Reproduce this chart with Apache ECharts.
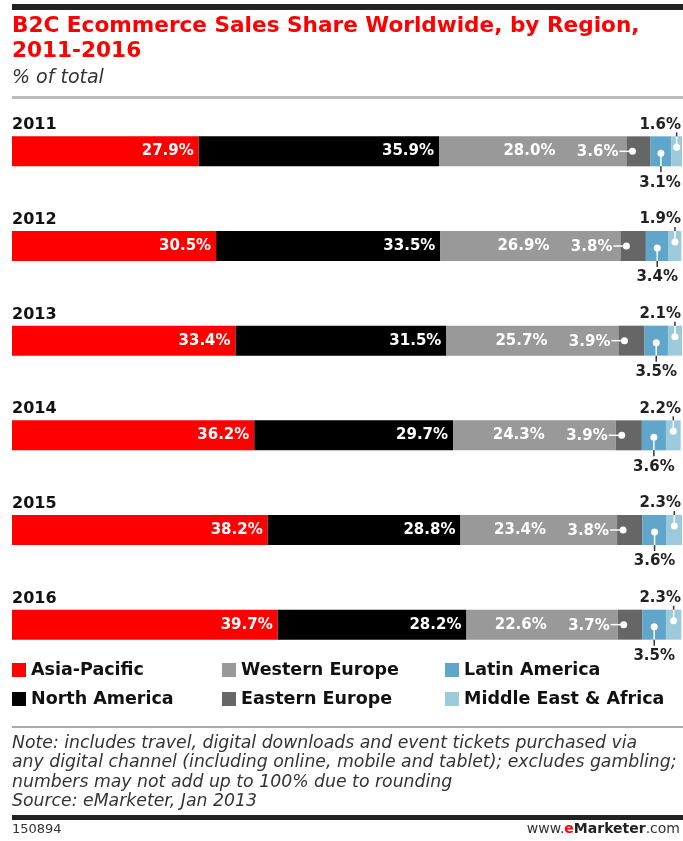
<!DOCTYPE html>
<html>
<head>
    <meta charset="utf-8">
    <title>B2C Ecommerce Sales Share Worldwide</title>
    <script src="https://cdn.jsdelivr.net/npm/echarts@6/dist/echarts.min.js"></script>
    <style>
        html, body { margin: 0; padding: 0; background: #fff; }
    </style>
</head>
<body>
    <div id="main" style="width: 683px;height:841px;"></div>
    <script type="text/javascript">
        // data
        var years = ['2011', '2012', '2013', '2014', '2015', '2016'];
        var asiaPacific = [27.9, 30.5, 33.4, 36.2, 38.2, 39.7];
        var northAmerica = [35.9, 33.5, 31.5, 29.7, 28.8, 28.2];
        var westernEurope = [28.0, 26.9, 25.7, 24.3, 23.4, 22.6];
        var easternEurope = [3.6, 3.8, 3.9, 3.9, 3.8, 3.7];
        var latinAmerica = [3.1, 3.4, 3.5, 3.6, 3.6, 3.5];
        var middleEastAfrica = [1.6, 1.9, 2.1, 2.2, 2.3, 2.3];

        var FONT = '"DejaVu Sans", Verdana, sans-serif';
        var myChart = echarts.init(document.getElementById('main'));

        // callouts for the three thin segments: [start, yearIndex, end, kind, value]
        var callouts = [];
        years.forEach(function (y, i) {
            var s = asiaPacific[i] + northAmerica[i] + westernEurope[i];
            callouts.push([s, i, s + easternEurope[i], 0, easternEurope[i]]);
            s += easternEurope[i];
            callouts.push([s, i, s + latinAmerica[i], 1, latinAmerica[i]]);
            s += latinAmerica[i];
            callouts.push([s, i, s + middleEastAfrica[i], 2, middleEastAfrica[i]]);
        });

        function renderCallout(params, api) {
            var p0 = api.coord([api.value(0), api.value(1)]);
            var p1 = api.coord([api.value(2), api.value(1)]);
            var kind = api.value(3);
            var txt = api.value(4).toFixed(1) + '%';
            var cy = p0[1];
            var half = 15;
            var children = [];
            if (kind === 0) {
                var dx = p0[0] + 6;
                children.push({type: 'line', shape: {x1: dx - 13, y1: cy, x2: dx, y2: cy}, style: {stroke: '#fff', lineWidth: 1.5}});
                children.push({type: 'circle', shape: {cx: dx, cy: cy, r: 3.5}, style: {fill: '#fff'}});
                children.push({type: 'text', x: dx - 14, y: cy + 1, style: {text: txt, fill: '#fff', font: 'bold 15px ' + FONT, align: 'right', verticalAlign: 'middle'}});
            } else if (kind === 1) {
                var lx = (p0[0] + p1[0]) / 2;
                children.push({type: 'line', shape: {x1: lx, y1: cy + 2, x2: lx, y2: cy + half}, style: {stroke: '#fff', lineWidth: 1.5}});
                children.push({type: 'line', shape: {x1: lx, y1: cy + half, x2: lx, y2: cy + half + 6}, style: {stroke: '#333', lineWidth: 1.5}});
                children.push({type: 'circle', shape: {cx: lx, cy: cy + 2, r: 3.5}, style: {fill: '#fff'}});
                children.push({type: 'text', x: Math.min(lx, 660), y: cy + half + 9, style: {text: txt, fill: '#222', font: 'bold 15px ' + FONT, align: 'center', verticalAlign: 'top'}});
            } else {
                var mx = (p0[0] + p1[0]) / 2;
                children.push({type: 'line', shape: {x1: mx, y1: cy - 4, x2: mx, y2: cy - half}, style: {stroke: '#fff', lineWidth: 1.5}});
                children.push({type: 'line', shape: {x1: mx, y1: cy - half, x2: mx, y2: cy - half - 4}, style: {stroke: '#333', lineWidth: 1.5}});
                children.push({type: 'circle', shape: {cx: mx, cy: cy - 4, r: 3.5}, style: {fill: '#fff'}});
                children.push({type: 'text', x: 681, y: cy - half - 4, style: {text: txt, fill: '#222', font: 'bold 15px ' + FONT, align: 'right', verticalAlign: 'bottom'}});
            }
            return {type: 'group', children: children};
        }

        var bigLabel = {
            show: true,
            position: 'insideRight',
            color: '#fff',
            fontFamily: FONT,
            fontWeight: 'bold',
            fontSize: 15,
            formatter: function (p) { return p.value.toFixed(1) + '%'; }
        };

        function legendAt(left, names) {
            return {
                orient: 'vertical',
                left: left,
                top: 661,
                padding: 0,
                icon: 'rect',
                itemWidth: 14,
                itemHeight: 14,
                itemGap: 11,
                selectedMode: false,
                data: names,
                textStyle: {fontFamily: FONT, fontWeight: 'bold', fontSize: 17.5, color: '#111', lineHeight: 18}
            };
        }

        option = {
            animation: false,
            backgroundColor: '#fff',
            title: {
                text: 'B2C Ecommerce Sales Share Worldwide, by Region,\n2011-2016',
                subtext: '% of total',
                left: 12,
                top: 14,
                itemGap: 3,
                padding: 0,
                textStyle: {fontFamily: FONT, fontWeight: 'bold', fontSize: 21.6, lineHeight: 25, color: '#ff0000'},
                subtextStyle: {fontFamily: FONT, fontStyle: 'italic', fontSize: 19, lineHeight: 22, color: '#333'}
            },
            legend: [
                legendAt(12, ['Asia-Pacific', 'North America']),
                legendAt(222, ['Western Europe', 'Eastern Europe']),
                legendAt(445, ['Latin America', 'Middle East & Africa'])
            ],
            grid: {left: 12, right: 1, top: 104, height: 568},
            xAxis: {
                type: 'value',
                min: 0,
                max: 100.1,
                show: false
            },
            yAxis: {
                type: 'category',
                inverse: true,
                data: years,
                axisLine: {show: false},
                axisTick: {show: false},
                axisLabel: {
                    inside: true,
                    margin: 0,
                    align: 'left',
                    verticalAlign: 'bottom',
                    padding: [0, 0, 18, 0],
                    fontFamily: FONT,
                    fontWeight: 'bold',
                    fontSize: 16,
                    color: '#111'
                }
            },
            series: [
                {name: 'Asia-Pacific', type: 'bar', stack: 't', barWidth: 30, itemStyle: {color: '#ff0000'}, label: bigLabel, data: asiaPacific},
                {name: 'North America', type: 'bar', stack: 't', itemStyle: {color: '#000000'}, label: bigLabel, data: northAmerica},
                {name: 'Western Europe', type: 'bar', stack: 't', itemStyle: {color: '#999999'}, label: Object.assign({}, bigLabel, {offset: [-66, 0]}), data: westernEurope},
                {name: 'Eastern Europe', type: 'bar', stack: 't', itemStyle: {color: '#666666'}, data: easternEurope},
                {name: 'Latin America', type: 'bar', stack: 't', itemStyle: {color: '#5fa6ca'}, data: latinAmerica},
                {name: 'Middle East & Africa', type: 'bar', stack: 't', itemStyle: {color: '#9ccadb'}, data: middleEastAfrica},
                {
                    name: 'callouts',
                    type: 'custom',
                    renderItem: renderCallout,
                    encode: {x: [0, 2], y: 1},
                    z: 10,
                    silent: true,
                    data: callouts
                }
            ],
            graphic: [
                {type: 'rect', left: 12, top: 4, shape: {width: 671, height: 6}, style: {fill: '#222'}},
                {type: 'rect', left: 12, top: 96, shape: {width: 671, height: 3}, style: {fill: '#bbb'}},
                {type: 'rect', left: 12, top: 726, shape: {width: 671, height: 2}, style: {fill: '#aaa'}},
                {type: 'rect', left: 12, top: 815, shape: {width: 671, height: 5}, style: {fill: '#222'}},
                {
                    type: 'text', left: 12, top: 734,
                    style: {
                        text: 'Note: includes travel, digital downloads and event tickets purchased via\nany digital channel (including online, mobile and tablet); excludes gambling;\nnumbers may not add up to 100% due to rounding\nSource: eMarketer, Jan 2013',
                        font: 'italic 17.3px ' + FONT, lineHeight: 19.3, fill: '#333'
                    }
                },
                {type: 'text', left: 12, top: 823, style: {text: '150894', font: '13px ' + FONT, fill: '#333'}},
                {
                    type: 'text', right: 3, top: 822,
                    style: {
                        text: '{a|www.}{e|e}{m|Marketer}{a|.com}',
                        rich: {
                            a: {font: '14px ' + FONT, fill: '#333'},
                            e: {font: 'bold 14px ' + FONT, fill: '#ff0000'},
                            m: {font: 'bold 14px ' + FONT, fill: '#222'}
                        }
                    }
                }
            ]
        };

        myChart.setOption(option);
    </script>
</body>
</html>
